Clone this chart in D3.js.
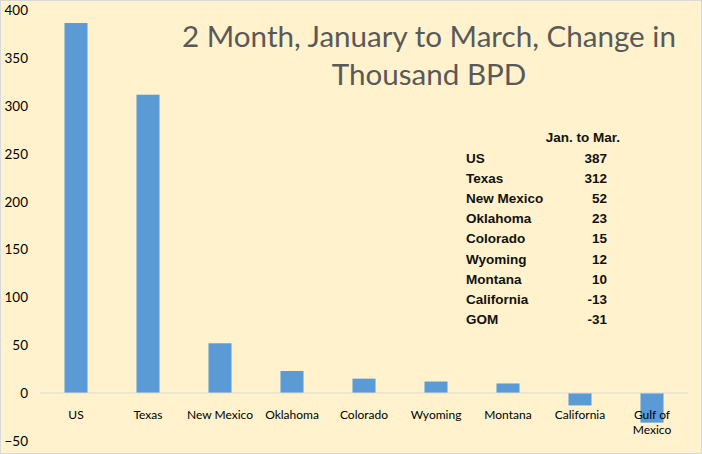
<!DOCTYPE html>
<html><head><meta charset="utf-8">
<script src="https://cdn.jsdelivr.net/npm/d3@7"></script>
<style>body{margin:0;background:#fff}svg{display:block}</style>
</head><body><svg id="c" width="702" height="454"></svg>
<script>
const categories = ["US","Texas","New Mexico","Oklahoma","Colorado","Wyoming","Montana","California","Gulf of Mexico"];
const values = [387,312,52,23,15,12,10,-13,-31];
const tableNames = ["US","Texas","New Mexico","Oklahoma","Colorado","Wyoming","Montana","California","GOM"];
const tableValues = [387,312,52,23,15,12,10,-13,-31];
const yTicks = [-50,0,50,100,150,200,250,300,350,400];
const titleLines = ["2 Month, January to March, Change in","Thousand BPD"];

const svg = d3.select("#c");
svg.append("rect").attr("x",0.5).attr("y",0.5).attr("width",701).attr("height",453)
  .attr("fill","#FFF2CC").attr("stroke","#D9D9D9");

const x = d3.scaleBand().domain(categories).range([40,688]).paddingInner(0.68).paddingOuter(0.34);
const y = d3.scaleLinear().domain([-50,400]).range([440.8,10.6]);

const ya = svg.append("g").attr("transform","translate(28,0)")
  .call(d3.axisLeft(y).tickValues(yTicks).tickSize(0).tickPadding(0));
ya.select(".domain").remove();
ya.selectAll("text").attr("font-family","Lato, 'Open Sans', sans-serif").attr("font-size",13.5).attr("fill","#000").attr("text-anchor","end");

svg.selectAll("rect.bar").data(values).join("rect").attr("class","bar")
  .attr("x",(d,i)=>x(categories[i])).attr("width",x.bandwidth())
  .attr("y",d=>y(Math.max(0,d))).attr("height",d=>Math.abs(y(d)-y(0)))
  .attr("fill","#5B9BD5");

svg.append("line").attr("x1",40).attr("x2",688).attr("y1",y(0)).attr("y2",y(0))
  .attr("stroke","#D9D9D9").attr("stroke-width",1);

const xa = svg.append("g").attr("transform",`translate(0,${y(0)})`)
  .call(d3.axisBottom(x).tickSize(0).tickPadding(0));
xa.select(".domain").remove();
xa.selectAll("text").remove();
xa.selectAll(".tick").each(function(d){
  const t = d3.select(this).append("text").attr("text-anchor","middle")
    .attr("font-family","Lato, 'Open Sans', sans-serif").attr("font-size",12).attr("fill","#000");
  const lines = d==="Gulf of Mexico" ? ["Gulf of","Mexico"] : [d];
  lines.forEach((l,k)=>t.append("tspan").attr("x",0).attr("y",26+k*15).text(l));
});

const tt = svg.append("text").attr("text-anchor","middle").attr("fill","#595959")
  .attr("font-family","Lato, 'Open Sans', sans-serif").attr("font-size",29.6);
titleLines.forEach((l,k)=>tt.append("tspan").attr("x",429).attr("y",47+k*38).text(l));

const tf = "'Liberation Sans', Arial, sans-serif";
const fs = 13.5;
svg.append("text").attr("x",620).attr("y",142).attr("text-anchor","end")
  .attr("font-family",tf).attr("font-weight","bold").attr("font-size",fs).attr("fill","#111").text("Jan. to Mar.");
tableNames.forEach((n,i)=>{
  svg.append("text").attr("x",466).attr("y",163+i*20.1).attr("font-family",tf).attr("font-weight","bold")
    .attr("font-size",fs).attr("fill","#111").text(n);
  svg.append("text").attr("x",607).attr("y",163+i*20.1).attr("text-anchor","end").attr("font-family",tf).attr("font-weight","bold")
    .attr("font-size",fs).attr("fill","#111").text(tableValues[i]);
});
</script></body></html>
